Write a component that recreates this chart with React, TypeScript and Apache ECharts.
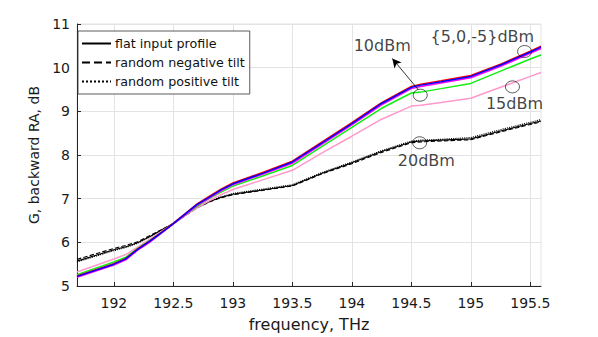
import React, { useEffect, useRef } from "react";
import * as echarts from "echarts";

// frequency grid, THz
const FREQ = [191.69, 192.0, 192.1, 192.2, 192.3, 192.4, 192.5, 192.6, 192.7, 192.8, 192.9, 193.0, 193.25, 193.5, 193.75, 194.0, 194.25, 194.5, 194.58, 194.75, 195.0, 195.25, 195.5, 195.59];

// gain, dB
const G_5DBM = [5.23, 5.51, 5.63, 5.85, 6.03, 6.23, 6.44, 6.66, 6.88, 7.05, 7.22, 7.36, 7.6, 7.86, 8.3, 8.74, 9.2, 9.57, 9.62, 9.7, 9.82, 10.08, 10.38, 10.49];
const G_0DBM = [5.22, 5.5, 5.62, 5.84, 6.02, 6.22, 6.43, 6.65, 6.87, 7.03, 7.2, 7.34, 7.58, 7.84, 8.28, 8.72, 9.18, 9.55, 9.6, 9.68, 9.8, 10.06, 10.36, 10.47];
const G_M5DBM = [5.2, 5.48, 5.6, 5.82, 6.0, 6.21, 6.42, 6.63, 6.85, 7.01, 7.18, 7.32, 7.56, 7.81, 8.25, 8.69, 9.15, 9.52, 9.57, 9.65, 9.77, 10.03, 10.33, 10.44];
const G_10DBM = [5.26, 5.55, 5.66, 5.86, 6.04, 6.23, 6.43, 6.63, 6.83, 7.0, 7.15, 7.29, 7.52, 7.76, 8.2, 8.63, 9.07, 9.42, 9.44, 9.52, 9.64, 9.92, 10.2, 10.29];
const G_15DBM = [5.32, 5.62, 5.72, 5.89, 6.07, 6.25, 6.43, 6.62, 6.79, 6.95, 7.09, 7.21, 7.43, 7.65, 8.05, 8.43, 8.82, 9.12, 9.14, 9.2, 9.3, 9.55, 9.8, 9.89];
const G_20DBM_FLAT = [5.57, 5.83, 5.9, 5.99, 6.13, 6.28, 6.43, 6.62, 6.8, 6.93, 7.03, 7.1, 7.2, 7.3, 7.58, 7.82, 8.08, 8.3, 8.32, 8.34, 8.37, 8.55, 8.72, 8.78];
const G_20DBM_NEG = [5.61, 5.86, 5.93, 6.01, 6.15, 6.29, 6.43, 6.61, 6.79, 6.92, 7.02, 7.09, 7.19, 7.29, 7.57, 7.8, 8.06, 8.28, 8.3, 8.32, 8.35, 8.53, 8.7, 8.76];
const G_20DBM_POS = [5.55, 5.81, 5.88, 5.98, 6.12, 6.27, 6.43, 6.63, 6.81, 6.94, 7.04, 7.12, 7.22, 7.32, 7.6, 7.84, 8.1, 8.32, 8.34, 8.36, 8.4, 8.58, 8.75, 8.81];

const X_TICKS = [192, 192.5, 193, 193.5, 194, 194.5, 195, 195.5];
const LEGEND_NAMES = ["flat input profile", "random negative tilt", "random positive tilt"];

const LABEL_TEXTS = ["10dBm", "{5,0,-5}dBm", "15dBm", "20dBm"];
const LABEL_F = [194.255, 195.097, 195.367, 194.626];
const LABEL_G = [10.5, 10.72, 9.18, 7.885];

const CIRCLE_F = [194.575, 195.452, 195.35, 194.57];
const CIRCLE_G = [9.37, 10.37, 9.56, 8.28];

const ARROW_FROM = [194.56, 9.49];
const ARROW_TO = [194.34, 10.21];

const pairs = (ys: number[]) => FREQ.map((f, i) => [f, ys[i]]);

export default function App() {
  const ref = useRef<HTMLDivElement>(null);
  useEffect(() => {
    if (!ref.current) return;
    const chart = echarts.init(ref.current, undefined, { renderer: "svg" });
    const font = "DejaVu Sans";
    const line = (name: string, ys: number[], color: string, type: any, width: number) => ({
      name,
      type: "line",
      data: pairs(ys),
      symbol: "none",
      showSymbol: false,
      lineStyle: { color, width, type },
      itemStyle: { color },
      z: 3,
    });
    chart.setOption({
      animation: false,
      textStyle: { fontFamily: font },
      grid: {
        left: 77,
        right: 57,
        top: 24,
        bottom: 51,
        show: true,
        borderColor: "#e3e3e3",
        borderWidth: 1,
      },
      legend: {
        data: LEGEND_NAMES,
        orient: "vertical",
        left: 78,
        top: 31,
        backgroundColor: "#fff",
        borderColor: "#333",
        borderWidth: 0.8,
        borderRadius: 0,
        padding: [6, 5, 6, 3],
        itemGap: 6,
        itemWidth: 29,
        itemHeight: 14,
        itemStyle: { opacity: 0 },
        textStyle: { fontFamily: font, fontSize: 12.7, color: "#111", padding: [0, 0, 0, -1] },
        selectedMode: false,
      },
      xAxis: {
        type: "value",
        min: 191.69,
        max: 195.59,
        name: "frequency, THz",
        nameLocation: "middle",
        nameGap: 30,
        nameTextStyle: { fontFamily: font, fontSize: 16, color: "#1a1a1a" },
        axisLine: { show: true, lineStyle: { color: "#262626", width: 1 } },
        axisTick: { inside: true, length: 4, customValues: X_TICKS, lineStyle: { color: "#262626" } },
        axisLabel: {
          customValues: X_TICKS,
          fontFamily: font,
          fontSize: 14,
          color: "#1a1a1a",
          margin: 10,
          formatter: (v: number) => String(v),
        },
        splitLine: { show: true, lineStyle: { color: "#e3e3e3", width: 1 } },
      },
      yAxis: {
        type: "value",
        min: 5,
        max: 11,
        interval: 1,
        name: "G, backward RA, dB",
        nameLocation: "middle",
        nameGap: 31,
        nameTextStyle: { fontFamily: font, fontSize: 14, color: "#1a1a1a" },
        axisLine: { show: true, lineStyle: { color: "#262626", width: 1 } },
        axisTick: { show: true, inside: true, length: 4, lineStyle: { color: "#262626" } },
        axisLabel: { fontFamily: font, fontSize: 14, color: "#1a1a1a", margin: 7 },
        splitLine: { show: true, lineStyle: { color: "#e3e3e3", width: 1 } },
      },
      series: [
        line(LEGEND_NAMES[0], G_20DBM_FLAT, "#000", "solid", 1.1),
        line(LEGEND_NAMES[1], G_20DBM_NEG, "#000", "dashed", 1.1),
        line(LEGEND_NAMES[2], G_20DBM_POS, "#000", "dotted", 1.1),
        line("15dBm", G_15DBM, "#ff99cc", "solid", 1.5),
        line("10dBm", G_10DBM, "#11ee11", "solid", 1.5),
        line("-5dBm", G_M5DBM, "#ff00ff", "solid", 1.5),
        line("5dBm", G_5DBM, "#ff0000", "solid", 1.5),
        line("0dBm", G_0DBM, "#0000ff", "solid", 1.5),
        {
          name: "circles",
          type: "scatter",
          data: CIRCLE_F.map((f, i) => [f, CIRCLE_G[i]]),
          symbol: "circle",
          symbolSize: [14, 12],
          itemStyle: { color: "rgba(0,0,0,0)", borderColor: "#000", borderWidth: 0.8 },
          z: 5,
          markLine: {
            silent: true,
            symbol: ["none", "arrow"],
            symbolSize: [7, 9],
            lineStyle: { color: "#000", width: 0.8, type: "solid" },
            label: { show: false },
            data: [[{ coord: ARROW_FROM }, { coord: ARROW_TO }]],
          },
        },
        {
          name: "labels",
          type: "scatter",
          data: LABEL_F.map((f, i) => [f, LABEL_G[i], LABEL_TEXTS[i]]),
          symbolSize: 1,
          itemStyle: { color: "rgba(0,0,0,0)" },
          label: {
            show: true,
            position: "inside",
            formatter: (p: any) => p.value[2],
            fontFamily: font,
            fontSize: 16,
            color: "#111",
          },
          z: 6,
        },
      ],
    });
    return () => chart.dispose();
  }, []);
  return (
    <div
      ref={ref}
      style={{ position: "fixed", left: 0, top: 0, width: 598, height: 337, background: "#fff" }}
    />
  );
}
